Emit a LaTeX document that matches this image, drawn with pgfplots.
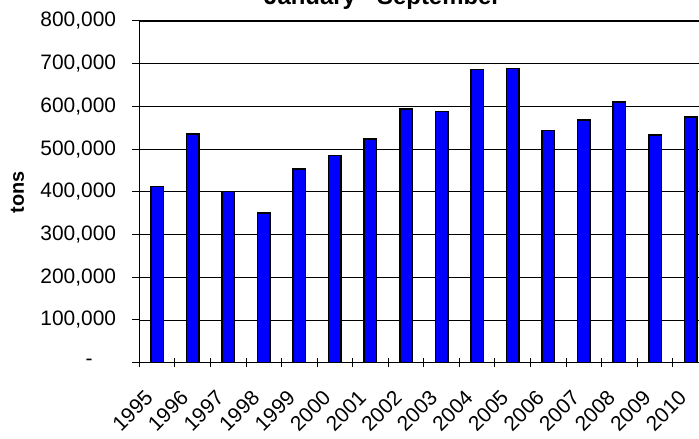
\documentclass[border=0pt]{standalone}
\usepackage{fontspec}
\setmainfont{Liberation Sans}
\usepackage{pgfplots}
\pgfplotsset{compat=1.18}
\pgfplotstableread{
x year val
0 1995 412000
1 1996 535000
2 1997 401000
3 1998 351000
4 1999 454000
5 2000 485000
6 2001 524000
7 2002 594000
8 2003 588000
9 2004 686000
10 2005 689000
11 2006 544000
12 2007 568000
13 2008 610000
14 2009 533000
15 2010 575000
}\datatable
\begin{document}
\begin{tikzpicture}
\useasboundingbox (0bp,0bp) rectangle (699bp,439bp);
\clip (0bp,0bp) rectangle (699bp,439bp);
\begin{axis}[
  at={(139.3bp,76.3bp)}, anchor=south west,
  scale only axis, width=569.1bp, height=341.7bp,
  xmin=-0.5, xmax=15.5, ymin=0, ymax=800000,
  enlargelimits=false,
  ybar, bar width=12.5bp,
  scaled y ticks=false,
  tick pos=left,
  xtick={0,...,15},
  xticklabels={1995,1996,1997,1998,1999,2000,2001,2002,2003,2004,2005,2006,2007,2008,2009,2010},
  major x tick style={draw=none},
  minor xtick={-0.5,0.5,...,15.5},
  xtick align=center, ytick align=outside,
  major tick length=7bp, minor tick length=9bp,
  ytick={0,100000,...,800000},
  yticklabels={{-\hspace*{23.5bp}},{100,000},{200,000},{300,000},{400,000},{500,000},{600,000},{700,000},{800,000}},
  ymajorgrids, major grid style={black, line width=0.8bp},
  axis line style={black, line width=1.3bp},
  every tick/.style={black, line width=1bp},
  tick label style={font=\fontsize{21}{24}\selectfont},
  yticklabel style={anchor=east, inner sep=0pt, xshift=-16bp},
  xticklabel style={inner sep=0pt, anchor=east, xshift=-8bp, yshift=-28bp, rotate=45},
]
\addplot[fill={rgb,255:red,0;green,0;blue,255}, draw=black, line width=1.5bp] table[x=x, y=val] {\datatable};
\end{axis}
\node[font=\bfseries\fontsize{24}{28}\selectfont, anchor=base] at (382.5bp,434bp) {January - September};
\node[font=\bfseries\fontsize{20}{24}\selectfont, rotate=90] at (17.5bp,247bp) {tons};
\end{tikzpicture}
\end{document}
